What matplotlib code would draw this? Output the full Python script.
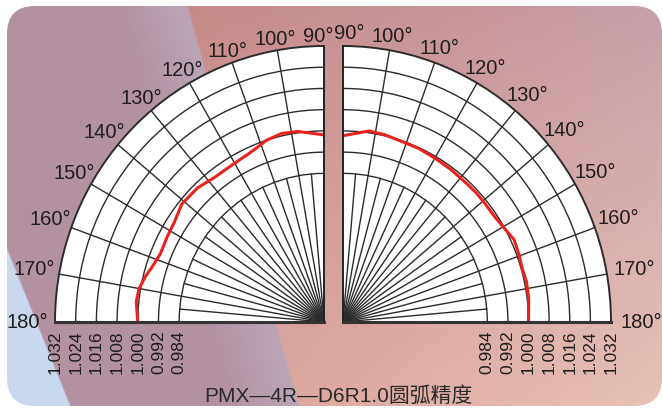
import numpy as np
import matplotlib.pyplot as plt
from matplotlib.patches import FancyBboxPatch
from matplotlib.transforms import offset_copy

W, H = 663, 411

# radial scale, outer ring first; the pole sits at r_center
ring_vals = [1.032, 1.024, 1.016, 1.008, 1.000, 0.992, 0.984]
ring_labels = ['1.032', '1.024', '1.016', '1.008', '1.000', '0.992', '0.984']
r_center = 0.928

angle_ticks = [90, 100, 110, 120, 130, 140, 150, 160, 170, 180]

# measured arc precision (angle in deg, relative radius)
left_deg = [90, 98, 103, 108, 111, 115, 121, 128, 134, 141, 147, 152, 158, 162, 166, 170, 174, 180]
left_val = [0.9985, 1.0005, 1.0009, 1.0000, 0.9988, 0.9977, 0.9970, 0.9970, 0.9983, 0.9987,
            0.9970, 0.9966, 0.9963, 0.9974, 0.9991, 1.0006, 1.0010, 1.0000]

right_deg = [90, 98, 103, 109, 114, 120, 126, 133, 137, 141, 146, 151, 155, 160, 164, 168, 173, 180]
right_val = [0.9982, 1.0007, 1.0004, 0.9997, 0.9997, 0.9993, 0.9991, 0.9989, 0.9990, 0.9989,
             0.9990, 1.0000, 1.0013, 1.0008, 1.0004, 1.0008, 1.0006, 1.0000]

title = 'PMX—4R—D6R1.0圆弧精度'

GRID = '#2b2b2b'
RED = '#e8231f'
FONT = ['Liberation Sans', 'DejaVu Sans']


def background():
    yy, xx = np.mgrid[0:H, 0:W].astype(float)
    u, v = (xx / W)[..., None], (yy / H)[..., None]
    tl = np.array([0.78, 0.51, 0.49]); tr = np.array([0.78, 0.62, 0.66])
    bl = np.array([0.84, 0.58, 0.56]); br = np.array([0.91, 0.76, 0.72])
    img = (1-u)*(1-v)*tl + u*(1-v)*tr + (1-u)*v*bl + u*v*br

    # mauve band on the left with a slanted edge
    x0, y0, x1, y1 = 185, 0, 300, 411
    d = ((x1-x0)*(yy-y0) - (y1-y0)*(xx-x0)) / np.hypot(x1-x0, y1-y0)
    m = np.clip(d/3 + 0.5, 0, 1)[..., None]
    t = np.clip(d/70, 0, 1)[..., None]
    lav = np.array([0.73, 0.65, 0.72]); mauve = np.array([0.70, 0.57, 0.63])
    purple = lav*(1-t) + mauve*t
    img = img*(1-m) + purple*m

    # pale blue corner
    x0, y0, x1, y1 = 7, 250, 72, 411
    d = ((x1-x0)*(yy-y0) - (y1-y0)*(xx-x0)) / np.hypot(x1-x0, y1-y0)
    m = np.clip(d/2 + 0.5, 0, 1)[..., None]
    img = img*(1-m) + np.array([0.79, 0.85, 0.93])*m
    return np.clip(img, 0, 1)


fig = plt.figure(figsize=(W/100, H/100), dpi=100)
fig.patch.set_facecolor('white')

bg = fig.add_axes([0, 0, 1, 1])
bg.set_xlim(0, W); bg.set_ylim(H, 0); bg.axis('off')
box = FancyBboxPatch((7, 6), 655, 400, boxstyle='round,pad=0,rounding_size=28',
                     facecolor='none', edgecolor='none')
bg.add_patch(box)
im = bg.imshow(background(), extent=(0, W, H, 0), aspect='auto', interpolation='bilinear')
im.set_clip_path(box)
bg.text(338, 396, title, ha='center', va='center', fontsize=15, color='#2a2a2a',
        family=['Liberation Sans', 'Noto Sans CJK SC'])


def quarter(rect, deg, val, mirrored, side):
    ax = fig.add_axes(rect, projection='polar')
    if mirrored:
        ax.set_theta_zero_location('W')
        ax.set_theta_direction(-1)
    ax.set_thetamin(90); ax.set_thetamax(180)
    ax.set_ylim(r_center, ring_vals[0])
    ax.set_aspect('auto')
    ax.set_facecolor('white')
    ax.set_xticks(np.deg2rad(angle_ticks[1:-1]))
    ax.set_yticks(ring_vals[1:])
    ax.set_xticklabels([]); ax.set_yticklabels([])
    ax.tick_params(length=0)
    ax.grid(True, color=GRID, lw=1.0)
    # short spokes inside the innermost ring
    for a in range(95, 180, 10):
        ax.plot([np.deg2rad(a)]*2, [r_center, ring_vals[-1]], color=GRID, lw=1.0)
    ax.spines['polar'].set_linewidth(1.4); ax.spines['polar'].set_color(GRID)
    ax.spines['start'].set_linewidth(1.4); ax.spines['start'].set_color('#222222')
    ax.spines['end'].set_linewidth(2.2); ax.spines['end'].set_color('#333333')

    ax.plot(np.deg2rad(deg), val, color=RED, lw=2.2, solid_capstyle='round',
            solid_joinstyle='round')

    below = offset_copy(ax.transData, fig=fig, y=-8, units='dots')
    for r, lab in zip(ring_vals, ring_labels):
        ax.text(np.pi, r, lab, rotation=90, ha='center', va='top', fontsize=12.5,
                color='#1e1e1e', family=FONT, transform=below, clip_on=False)

    for a in angle_ticks:
        rho = 1.040 + 0.068*((a-90)/90)**1.3 + side*0.006
        pos = a + 1.2 if a == 90 else a
        ax.text(np.deg2rad(pos), r_center + rho*(ring_vals[0]-r_center), f'{a}°',
                ha='center', va='center', fontsize=14.5, color='#1e1e1e',
                family=FONT, clip_on=False)
    return ax


bottom = (H-322)/H
height = 276/H
quarter([55/W, bottom, 269/W, height], left_deg, left_val, False, -1)
quarter([343/W, bottom, 268/W, height], right_deg, right_val, True, 1)

fig.savefig('out.png', dpi=100)
